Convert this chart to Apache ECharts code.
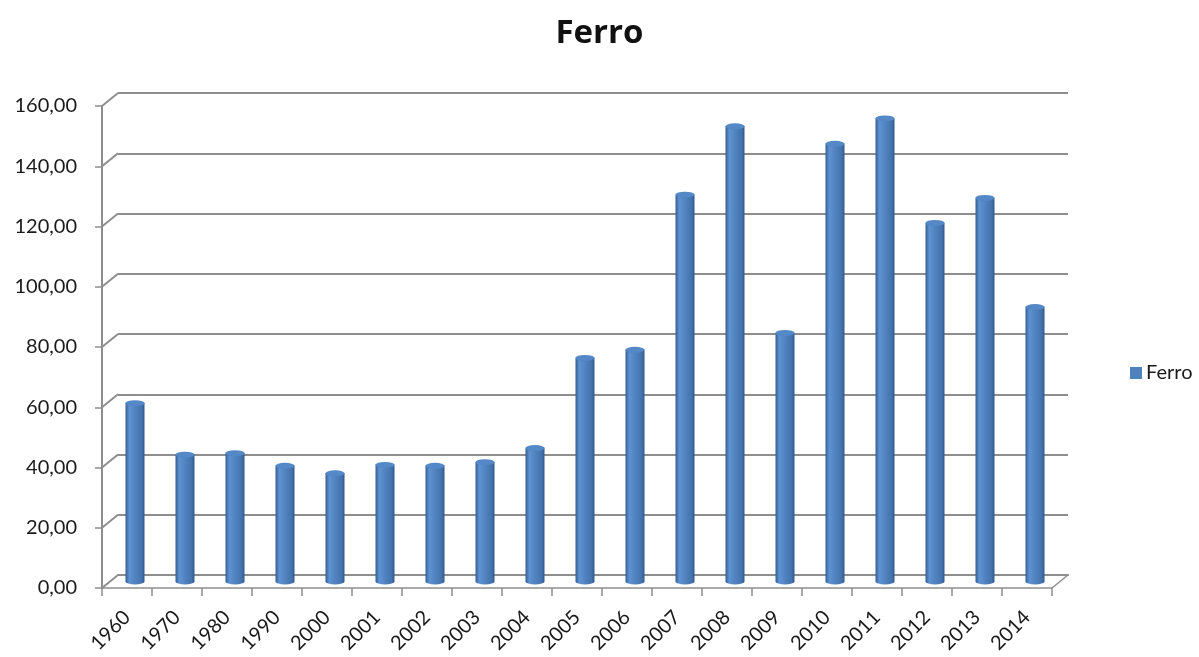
<!DOCTYPE html>
<html>
<head>
<meta charset="utf-8">
<title>Ferro</title>
<script src="https://cdn.jsdelivr.net/npm/echarts@6/dist/echarts.min.js"></script>
<style>
  html, body { margin: 0; padding: 0; background: #ffffff; }
  #chart { width: 1199px; height: 657px; }
</style>
</head>
<body>
<div id="chart"></div>
<script>
// Years on the category axis
const categories = ['1960', '1970', '1980', '1990', '2000', '2001', '2002', '2003', '2004',
  '2005', '2006', '2007', '2008', '2009', '2010', '2011', '2012', '2013', '2014'];

// Iron values per year
const ferro = [59.3, 42.2, 42.7, 38.5, 36.0, 38.8, 38.5, 39.7, 44.4,
  74.3, 77.0, 128.5, 151.2, 82.6, 145.4, 153.8, 119.1, 127.4, 91.2];

// Value axis ticks
const yTicks = [0, 20, 40, 60, 80, 100, 120, 140, 160];

// Pseudo-3D depth: back wall is shifted right and up from the front axes
const DEPTH = { dx: 16, dy: -13 };
const FRONT = { left: 102, right: 147, top: 106, bottom: 69 };
const BACK = {
  left: FRONT.left + DEPTH.dx, right: FRONT.right - DEPTH.dx,
  top: FRONT.top + DEPTH.dy, bottom: FRONT.bottom - DEPTH.dy
};
const MID = {
  left: FRONT.left + DEPTH.dx / 2, right: FRONT.right - DEPTH.dx / 2,
  top: FRONT.top + DEPTH.dy / 2, bottom: FRONT.bottom - DEPTH.dy / 2
};

const GRID_GRAY = '#8e8e8e';
const TEXT = '#1a1a1a';
const FONT = 'Lato, "Open Sans", sans-serif';
const BAR_W = 19;
const CAP_H = 6;

const cylinder = new echarts.graphic.LinearGradient(0, 0, 1, 0, [
  { offset: 0, color: '#345d92' },
  { offset: 0.2, color: '#5f92d2' },
  { offset: 0.55, color: '#4f81bd' },
  { offset: 0.85, color: '#4473ad' },
  { offset: 1, color: '#30578a' }
]);

const fmt = v => v.toFixed(2).replace('.', ',');

const valueAxisBase = { type: 'value', min: 0, max: 160, interval: 20 };

const chart = echarts.init(document.getElementById('chart'));

chart.setOption({
  backgroundColor: '#ffffff',
  animation: false,
  title: {
    text: 'Ferro',
    left: 'center',
    top: 12,
    textStyle: { fontFamily: '"Open Sans", Lato, sans-serif', fontSize: 33, fontWeight: 'bold', color: '#111' }
  },
  legend: {
    data: [{ name: 'Ferro', itemStyle: { color: '#4f81bd' } }],
    left: 1125,
    top: 358,
    icon: 'rect',
    itemWidth: 12,
    itemHeight: 12,
    itemGap: 6,
    textStyle: { fontFamily: FONT, fontSize: 20, color: TEXT, padding: [0, 0, 0, -1] }
  },
  grid: [
    Object.assign({}, FRONT),
    Object.assign({}, BACK),
    Object.assign({}, MID)
  ],
  xAxis: [
    {
      gridIndex: 0, type: 'category', data: categories, boundaryGap: true,
      axisLine: { lineStyle: { color: GRID_GRAY, width: 1.5 } },
      axisTick: { show: true, length: 8, interval: 0, lineStyle: { color: GRID_GRAY, width: 1.5 } },
      axisLabel: {
        interval: 0, rotate: 45, margin: 26,
        fontFamily: FONT, fontSize: 20, color: TEXT
      }
    },
    {
      gridIndex: 1, type: 'category', data: categories, boundaryGap: true,
      axisLine: { show: true, lineStyle: { color: GRID_GRAY, width: 2 } },
      axisTick: { show: false }, axisLabel: { show: false }
    },
    {
      gridIndex: 2, type: 'category', data: categories, boundaryGap: true,
      axisLine: { show: false }, axisTick: { show: false }, axisLabel: { show: false }
    }
  ],
  yAxis: [
    Object.assign({}, valueAxisBase, {
      gridIndex: 0,
      axisLine: { show: true, lineStyle: { color: GRID_GRAY, width: 2 } },
      axisTick: { show: true, length: 7, lineStyle: { color: GRID_GRAY, width: 1.5 } },
      splitLine: { show: false },
      axisLabel: { margin: 25, formatter: fmt, fontFamily: FONT, fontSize: 20, color: TEXT }
    }),
    Object.assign({}, valueAxisBase, {
      gridIndex: 1,
      axisLine: { show: false }, axisTick: { show: false }, axisLabel: { show: false },
      splitLine: { show: true, lineStyle: { color: GRID_GRAY, width: 2 } }
    }),
    Object.assign({}, valueAxisBase, {
      gridIndex: 2,
      axisLine: { show: false }, axisTick: { show: false }, axisLabel: { show: false },
      splitLine: { show: false }
    })
  ],
  series: [
    {
      // diagonal hooks joining front ticks to the back-wall gridlines
      name: 'depth-left', type: 'custom', xAxisIndex: 0, yAxisIndex: 0,
      silent: true, clip: false, z: 1,
      data: yTicks.map(v => [0, v]),
      encode: { x: 0, y: 1 },
      renderItem: (params, api) => {
        const p = api.coord([api.value(0), api.value(1)]);
        const x0 = p[0] - api.size([1, 0])[0] / 2;
        return {
          type: 'line',
          shape: { x1: x0, y1: p[1], x2: x0 + DEPTH.dx, y2: p[1] + DEPTH.dy },
          style: { stroke: GRID_GRAY, lineWidth: 2 }
        };
      }
    },
    {
      // right edge of the floor
      name: 'depth-right', type: 'custom', xAxisIndex: 0, yAxisIndex: 0,
      silent: true, clip: false, z: 1,
      data: [[categories.length - 1, 0]],
      encode: { x: 0, y: 1 },
      renderItem: (params, api) => {
        const p = api.coord([api.value(0), api.value(1)]);
        const x0 = p[0] + api.size([1, 0])[0] / 2;
        return {
          type: 'line',
          shape: { x1: x0, y1: p[1], x2: x0 + DEPTH.dx, y2: p[1] + DEPTH.dy },
          style: { stroke: GRID_GRAY, lineWidth: 1.5 }
        };
      }
    },
    {
      // rounded base of each cylinder
      name: 'cyl-bottom', type: 'pictorialBar', xAxisIndex: 2, yAxisIndex: 2,
      symbol: 'circle', symbolSize: [BAR_W, CAP_H], symbolPosition: 'start',
      symbolOffset: [0, '50%'],
      data: ferro, z: 3, silent: true,
      itemStyle: { color: cylinder }
    },
    {
      name: 'Ferro', type: 'bar', xAxisIndex: 2, yAxisIndex: 2,
      barWidth: BAR_W, data: ferro, z: 4,
      itemStyle: { color: cylinder }
    },
    {
      // elliptical cap centred on the value
      name: 'cyl-top', type: 'pictorialBar', xAxisIndex: 2, yAxisIndex: 2,
      symbol: 'circle', symbolSize: [BAR_W, CAP_H], symbolPosition: 'end',
      symbolOffset: [0, '-50%'],
      data: ferro, z: 5, silent: true,
      itemStyle: { color: '#5488c6', borderColor: '#365f94', borderWidth: 1 }
    }
  ]
});
</script>
</body>
</html>
